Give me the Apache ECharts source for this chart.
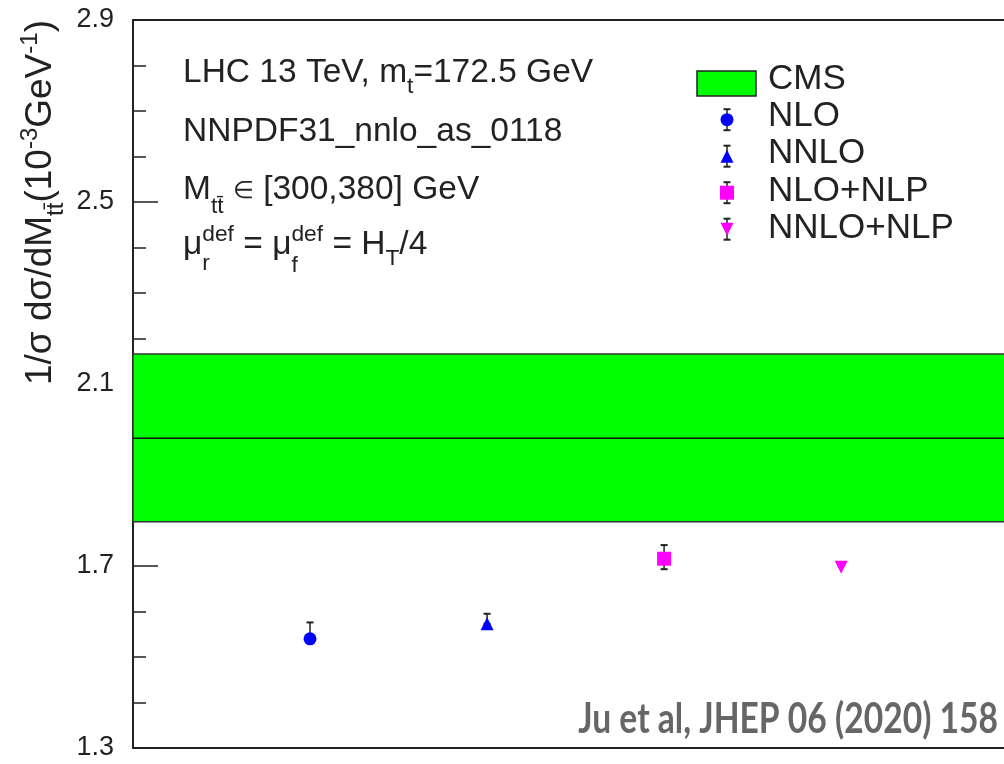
<!DOCTYPE html>
<html><head><meta charset="utf-8">
<script src="https://cdn.jsdelivr.net/npm/echarts@6/dist/echarts.min.js"></script>
<style>html,body{margin:0;padding:0;background:#fff}#c{width:1004px;height:764px}</style>
</head><body><div id="c"></div>
<script>
// ---- data ----
const seriesNames = ['NLO', 'NNLO', 'NLO+NLP', 'NNLO+NLP'];
const xPositions = [1, 2, 3, 4];
const centralValues = [1.540, 1.573, 1.716, 1.697];
const errorUpper = [1.576, 1.595, 1.746, 1.697];
const errorLower = [1.540, 1.573, 1.693, 1.697];
const cmsLabel = 'CMS';
const cmsCentral = [1.981];
const cmsLow = [1.797];
const cmsHigh = [2.166];
const yTickLabels = ['1.3', '1.7', '2.1', '2.5', '2.9'];
const xRange = [0, 4.92];

// ---- styles ----
const markerSymbols = ['circle', 'triangle', 'rect', 'triangle'];
const markerRotate = [0, 0, 0, 180];
const markerColors = ['#0000ff', '#0000ff', '#ff00ff', '#ff00ff'];
const markerSizes = [13, 13, 14, 13];
const FONT = 'Liberation Sans';
const INK = '#222';

const mctx = document.createElement('canvas').getContext('2d');
function tw(t, s, w) { mctx.font = (w || 'normal') + ' ' + s + 'px "' + FONT + '"'; return mctx.measureText(t).width; }
function mk(t, x, base, s, extra) {
  return Object.assign({ type: 'text', x: x, y: base - 0.3465 * s, silent: true,
    style: { text: t, fontFamily: FONT, fontSize: s, fill: INK, align: 'left', verticalAlign: 'middle' } }, extra || {});
}
function lineWidth(parts, size) {
  let w = 0;
  for (const p of parts) {
    if (p.stack) w += Math.max.apply(null, p.stack.map(q => tw(q.t, size * (q.f || 0.68))));
    else w += tw(p.t, size * (p.f || 1)) + (p.dx || 0);
  }
  return w;
}
function richLine(parts, x0, base, size) {
  const els = []; let x = x0;
  for (const p of parts) {
    if (p.stack) {
      let w = 0;
      for (const q of p.stack) { const s = size * (q.f || 0.68); els.push(mk(q.t, x, base + q.dy, s)); w = Math.max(w, tw(q.t, s)); }
      x += w;
    } else {
      const s = size * (p.f || 1);
      els.push(mk(p.t, x + (p.dx || 0), base + (p.dy || 0), s));
      x += tw(p.t, s) + (p.dx || 0);
    }
  }
  return els;
}

const annSize = 33.5;
const annotation = [].concat(
  richLine([{ t: 'LHC 13 TeV, m' }, { t: 't', f: 0.68, dy: 11 }, { t: '=172.5 GeV' }], 183, 84, annSize),
  richLine([{ t: 'NNPDF31_nnlo_as_0118' }], 183, 143, annSize),
  richLine([{ t: 'M' }, { t: 't\u0074\u0304', f: 0.68, dy: 14 }, { t: ' ' }, { t: '\u2208', f: 0.72, dy: -1 }, { t: ' [300,380] GeV' }], 183, 201, annSize),
  richLine([{ t: '\u03bc' }, { stack: [{ t: 'def', dy: -13 }, { t: 'r', dy: 16 }] }, { t: ' = \u03bc' },
            { stack: [{ t: 'def', dy: -13 }, { t: 'f', dy: 18 }] }, { t: ' = H' }, { t: 'T', f: 0.68, dy: 11 }, { t: '/4' }], 183, 256, annSize)
);

// y axis title (rotated)
const titleSize = 37;
const titleParts = [{ t: '1/\u03c3 d\u03c3/dM' }, { t: 't\u0074\u0304', f: 0.65, dy: 11 }, { t: '(10' },
  { t: '-3', f: 0.65, dy: -15 }, { t: 'GeV' }, { t: '-1', f: 0.65, dy: -15 }, { t: ')' }];
const titleW = lineWidth(titleParts, titleSize);
const yTitle = { type: 'group', x: 54, y: 20, rotation: Math.PI / 2,
  children: richLine(titleParts, -titleW, 0, titleSize) };

// legend (graphic)
const legendEls = [];
const legX = 727, legTextX = 768, legSize = 35;
legendEls.push({ type: 'rect', shape: { x: 697, y: 71, width: 59, height: 25 },
  style: { fill: '#00ff00', stroke: INK, lineWidth: 1.5 } });
legendEls.push(mk(cmsLabel, legTextX, 91, legSize));
seriesNames.forEach((name, i) => {
  const base = 128.5 + 37.25 * i;
  const cy = 119.7 + 36.5 * i;
  const cap = 3.5, h = 10.5;
  legendEls.push({ type: 'line', shape: { x1: legX, y1: cy - h, x2: legX, y2: cy + h }, style: { stroke: INK, lineWidth: 1.5 } });
  legendEls.push({ type: 'line', shape: { x1: legX - cap, y1: cy - h, x2: legX + cap, y2: cy - h }, style: { stroke: INK, lineWidth: 2 } });
  legendEls.push({ type: 'line', shape: { x1: legX - cap, y1: cy + h, x2: legX + cap, y2: cy + h }, style: { stroke: INK, lineWidth: 2 } });
  const r = markerSizes[i] / 2, col = markerColors[i];
  let m;
  if (markerSymbols[i] === 'circle') m = { type: 'circle', shape: { cx: legX, cy: cy, r: r } };
  else if (markerSymbols[i] === 'rect') m = { type: 'rect', shape: { x: legX - r, y: cy - r, width: 2 * r, height: 2 * r } };
  else if (markerRotate[i] === 0) m = { type: 'polygon', shape: { points: [[legX, cy - r], [legX + r, cy + r], [legX - r, cy + r]] } };
  else m = { type: 'polygon', shape: { points: [[legX - r, cy - r], [legX + r, cy - r], [legX, cy + r]] } };
  m.style = { fill: col };
  legendEls.push(m);
  legendEls.push(mk(name, legTextX, base, legSize));
});

const wmSize = 42;
const watermark = { type: 'text', x: 998, y: 736 - 0.387 * wmSize, scaleX: 0.8, silent: true,
  style: { text: 'Ju et al, JHEP 06 (2020) 158', fontFamily: 'Lato', fontWeight: 'bold', fontSize: wmSize, fill: '#666',
    align: 'right', verticalAlign: 'middle' } };

const chart = echarts.init(document.getElementById('c'), null, { renderer: 'canvas' });

const scatterSeries = seriesNames.map((name, i) => ({
  type: 'scatter', name: name, symbol: markerSymbols[i], symbolRotate: markerRotate[i], symbolSize: markerSizes[i],
  itemStyle: { color: markerColors[i], opacity: 1 }, z: 5, silent: true,
  data: [[xPositions[i], centralValues[i]]]
}));

chart.setOption({
  animation: false,
  backgroundColor: '#fff',
  grid: { left: 133, right: 0, top: 20, bottom: 16, containLabel: false },
  xAxis: [
    { type: 'value', min: xRange[0], max: xRange[1], position: 'bottom', axisLine: { show: true, onZero: false, lineStyle: { color: INK, width: 2 } },
      axisTick: { show: false }, axisLabel: { show: false }, splitLine: { show: false } },
    { type: 'value', min: xRange[0], max: xRange[1], position: 'top', axisLine: { show: true, onZero: false, lineStyle: { color: INK, width: 2 } },
      axisTick: { show: false }, axisLabel: { show: false }, splitLine: { show: false } }
  ],
  yAxis: {
    type: 'value', min: 1.3, max: 2.9, interval: 0.4,
    axisLine: { show: true, onZero: false, lineStyle: { color: INK, width: 2 } },
    axisTick: { show: true, inside: true, length: 25, lineStyle: { color: INK, width: 1.5 } },
    minorTick: { show: true, splitNumber: 4, length: 13, lineStyle: { color: INK, width: 1.5 } },
    axisLabel: { fontFamily: FONT, fontSize: 27, color: INK, margin: 19,
      formatter: v => { const s = v.toFixed(1); return yTickLabels.indexOf(s) >= 0 ? s : ''; } },
    splitLine: { show: false }, minorSplitLine: { show: false }
  },
  series: [
    {
      type: 'custom', name: cmsLabel, z: 1, silent: true,
      renderItem: function (params, api) {
        const lo = api.value(0), hi = api.value(1), c = api.value(2);
        const cs = params.coordSys;
        const yHi = api.coord([0, hi])[1], yLo = api.coord([0, lo])[1], yC = api.coord([0, c])[1];
        return { type: 'group', children: [
          { type: 'rect', shape: { x: cs.x, y: yHi, width: cs.width + 4, height: yLo - yHi }, style: { fill: '#00ff00', stroke: '#333', lineWidth: 1.5 } },
          { type: 'line', shape: { x1: cs.x, y1: yC, x2: cs.x + cs.width, y2: yC }, style: { stroke: '#111', lineWidth: 1.5 } }
        ] };
      },
      data: cmsLow.map((v, i) => [v, cmsHigh[i], cmsCentral[i]])
    },
    {
      type: 'custom', name: 'errors', z: 3, silent: true,
      renderItem: function (params, api) {
        const x = api.value(0), lo = api.value(1), hi = api.value(2);
        if (hi === lo) return null;
        const p1 = api.coord([x, lo]), p2 = api.coord([x, hi]);
        const cap = 3.5;
        return { type: 'group', children: [
          { type: 'line', shape: { x1: p1[0], y1: p1[1], x2: p2[0], y2: p2[1] }, style: { stroke: INK, lineWidth: 1.5 } },
          { type: 'line', shape: { x1: p1[0] - cap, y1: p1[1], x2: p1[0] + cap, y2: p1[1] }, style: { stroke: INK, lineWidth: 2 } },
          { type: 'line', shape: { x1: p2[0] - cap, y1: p2[1], x2: p2[0] + cap, y2: p2[1] }, style: { stroke: INK, lineWidth: 2 } }
        ] };
      },
      encode: { x: 0, y: [1, 2] },
      data: xPositions.map((x, i) => [x, errorLower[i], errorUpper[i]])
    }
  ].concat(scatterSeries),
  graphic: [].concat(annotation, [yTitle], legendEls, [watermark])
});
</script></body></html>
